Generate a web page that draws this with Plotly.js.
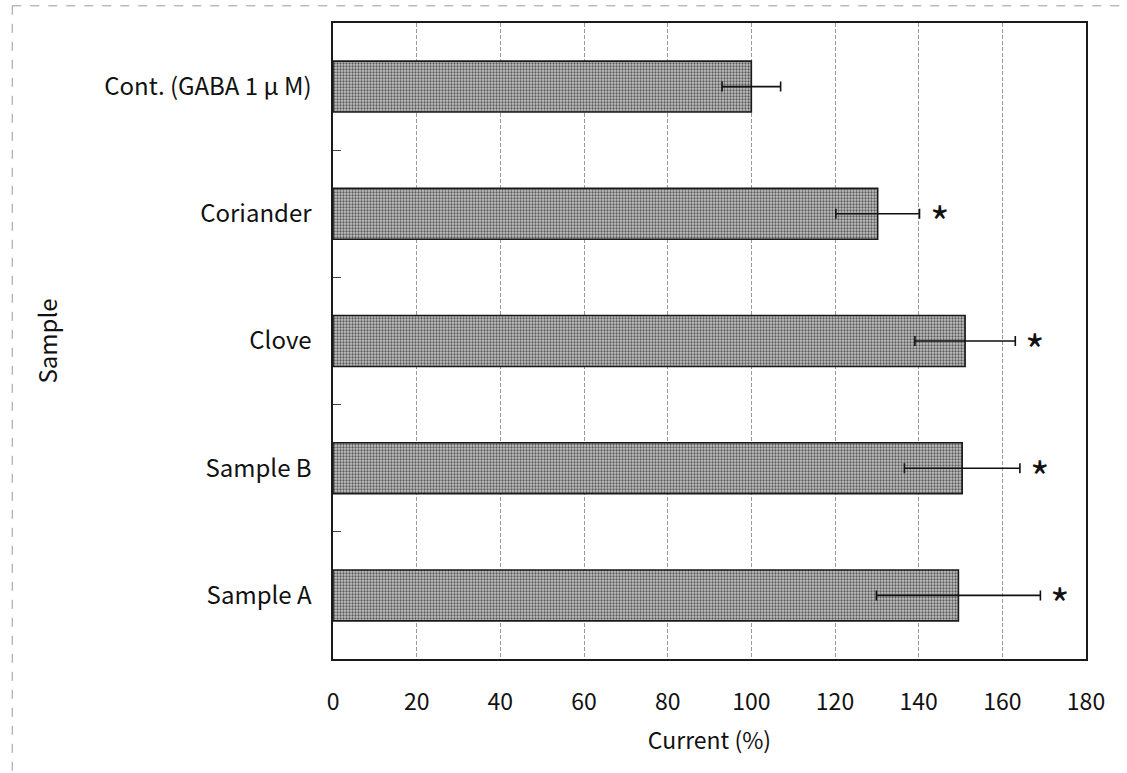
<!DOCTYPE html>
<html>
<head>
<meta charset="utf-8">
<script src="https://cdn.plot.ly/plotly-3.0.1.min.js"></script>
<style>
  html, body { margin: 0; padding: 0; background: #fff; }
  #chart { width: 1127px; height: 773px; }
</style>
</head>
<body>
<div id="chart"></div>
<script>
// GABA-induced current relative to control, listed from top to bottom
const samples = ['Cont. (GABA 1 μ M)', 'Coriander', 'Clove', 'Sample B', 'Sample A'];
const currentPct = [100, 130.2, 151.1, 150.4, 149.5];
const errorPct = [7, 10, 12, 13.8, 19.6];
const significance = ['', '*', '*', '*', '*'];
const xTicks = [0, 20, 40, 60, 80, 100, 120, 140, 160, 180];

const FONT = '"Noto Sans CJK JP", "Noto Sans", sans-serif';

const trace = {
  type: 'bar',
  orientation: 'h',
  y: samples,
  x: currentPct,
  marker: {
    color: '#c4c4c4',
    line: { color: '#1a1a1a', width: 1.6 },
    pattern: { shape: '.', fgcolor: '#5a5a5a', bgcolor: '#c4c4c4', size: 3, solidity: 0.45, fillmode: 'replace' }
  },
  error_x: {
    type: 'data',
    array: errorPct,
    visible: true,
    color: '#111',
    thickness: 1.6,
    width: 5
  },
  hoverinfo: 'skip'
};

// significance marks placed just past each error bar
const annotations = samples.map((s, i) => ({
  x: currentPct[i] + errorPct[i],
  y: s,
  xref: 'x',
  yref: 'y',
  text: significance[i],
  showarrow: false,
  xanchor: 'center',
  yanchor: 'middle',
  xshift: 20,
  yshift: -7,
  font: { family: FONT, size: 42, color: '#111' }
})).filter(a => a.text);

// light dashed frame around the whole figure
const frameLine = { color: '#9a9a9a', width: 1, dash: 'dash' };
const shapes = [
  { type: 'line', xref: 'paper', yref: 'paper', x0: -0.426, x1: 1.059, y0: 1.027, y1: 1.027, line: frameLine },
  { type: 'line', xref: 'paper', yref: 'paper', x0: -0.426, x1: -0.426, y0: 1.027, y1: -0.2, line: frameLine },
  { type: 'line', xref: 'paper', yref: 'paper', x0: 1.059, x1: 1.059, y0: 1.027, y1: -0.2, line: frameLine }
];

const layout = {
  width: 1127,
  height: 773,
  margin: { l: 333, r: 41, t: 23, b: 114 },
  paper_bgcolor: '#ffffff',
  plot_bgcolor: '#ffffff',
  showlegend: false,
  bargap: 0.6,
  font: { family: FONT, color: '#111' },
  xaxis: {
    range: [0, 180],
    tickvals: xTicks,
    ticktext: xTicks.map(String),
    ticks: '',
    ticklabelstandoff: 22,
    tickfont: { family: FONT, size: 23, color: '#111' },
    showgrid: true,
    gridcolor: '#9a9a9a',
    gridwidth: 1,
    griddash: '4px,2px',
    zeroline: false,
    showline: true,
    linecolor: '#1a1a1a',
    linewidth: 1.6,
    mirror: true,
    title: { text: 'Current (%)', font: { family: FONT, size: 23, color: '#111' }, standoff: 16 }
  },
  yaxis: {
    type: 'category',
    autorange: 'reversed',
    ticks: 'inside',
    tickson: 'boundaries',
    ticklen: 8,
    tickwidth: 1,
    tickcolor: '#444',
    ticklabelstandoff: 15,
    tickfont: { family: FONT, size: 24, color: '#111' },
    showgrid: false,
    zeroline: false,
    showline: true,
    linecolor: '#1a1a1a',
    linewidth: 1.6,
    mirror: true,
    title: { text: 'Sample', font: { family: FONT, size: 24, color: '#111' }, standoff: 40 }
  },
  annotations: annotations,
  shapes: shapes
};

Plotly.newPlot('chart', [trace], layout, { displayModeBar: false, staticPlot: true });
</script>
</body>
</html>
